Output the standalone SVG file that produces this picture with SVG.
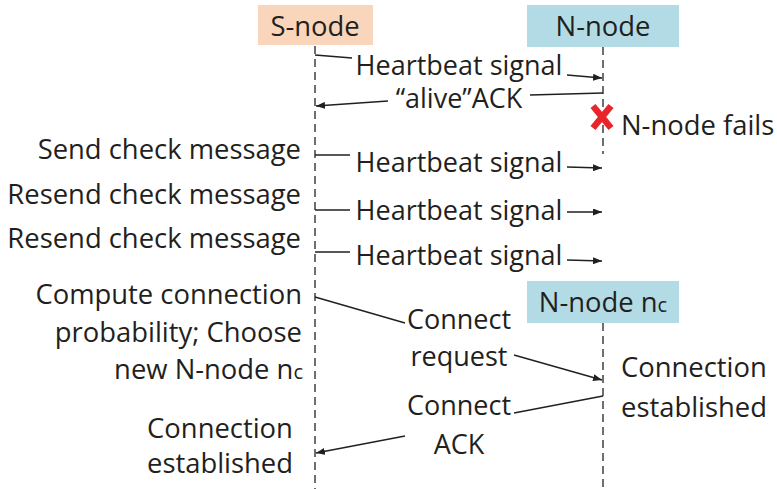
<svg xmlns="http://www.w3.org/2000/svg" width="777" height="489" viewBox="0 0 777 489">
  <defs>
    <marker id="arrow" viewBox="0 0 9 7" refX="9" refY="3.5" markerWidth="9" markerHeight="7" markerUnits="userSpaceOnUse" orient="auto">
      <path d="M0,0 L9,3.5 L0,7 z" fill="#231f20"/>
    </marker>
    <style>
      text { font-family: "Open Sans", "Noto Sans", sans-serif; font-size: 27.4px; fill: #231f20; }
      .lbl { font-size: 27px; }
      .end { text-anchor: end; }
      .mid { text-anchor: middle; }
      .life { stroke: #333; stroke-width: 1.4; stroke-dasharray: 8 5; fill: none; }
      .msg { stroke: #231f20; stroke-width: 1.4; fill: none; }
      .sub { font-size: 20px; }
    </style>
  </defs>
  <rect width="777" height="489" fill="#ffffff"/>

  <!-- lifelines -->
  <g id="lifelines">
    <line class="life" x1="315" y1="46" x2="315" y2="489"/>
    <line class="life" x1="603" y1="47" x2="603" y2="154"/>
    <line class="life" x1="603" y1="323" x2="603" y2="489"/>
  </g>

  <!-- participants -->
  <g id="s-node">
    <rect x="258" y="5" width="115" height="40" fill="#f9d5bb"/>
    <text class="mid" x="315" y="36">S-node</text>
  </g>
  <g id="n-node">
    <rect x="527" y="5" width="152" height="42" fill="#b3dbe5"/>
    <text class="mid" x="603" y="36">N-node</text>
  </g>
  <g id="n-node-nc">
    <rect x="527" y="281" width="152" height="42" fill="#b3dbe5"/>
    <text class="mid" x="603" y="312">N-node n<tspan class="sub">c</tspan></text>
  </g>
  <g id="failure">
    <line x1="593" y1="106" x2="611" y2="128" stroke="#e8252b" stroke-width="6.5"/>
    <line x1="611" y1="106" x2="593" y2="128" stroke="#e8252b" stroke-width="6.5"/>
    <text x="621" y="135">N-node fails</text>
  </g>

  <!-- messages -->
  <g id="connectors">
    <line class="msg" x1="315" y1="55" x2="352" y2="58"/>
    <line class="msg" x1="567" y1="75" x2="602" y2="78" marker-end="url(#arrow)"/>
    <line class="msg" x1="603" y1="93" x2="530" y2="95"/>
    <line class="msg" x1="388" y1="101" x2="316" y2="106" marker-end="url(#arrow)"/>

    <line class="msg" x1="315" y1="155" x2="350" y2="155"/>
    <line class="msg" x1="567" y1="167" x2="602" y2="168" marker-end="url(#arrow)"/>
    <line class="msg" x1="315" y1="210" x2="350" y2="210"/>
    <line class="msg" x1="567" y1="212" x2="602" y2="212" marker-end="url(#arrow)"/>
    <line class="msg" x1="315" y1="252" x2="350" y2="252"/>
    <line class="msg" x1="567" y1="260" x2="602" y2="261" marker-end="url(#arrow)"/>

    <line class="msg" x1="315" y1="297" x2="405" y2="323"/>
    <line class="msg" x1="514" y1="355" x2="602" y2="380" marker-end="url(#arrow)"/>
    <line class="msg" x1="603" y1="396" x2="514" y2="413"/>
    <line class="msg" x1="405" y1="436" x2="316" y2="453" marker-end="url(#arrow)"/>
  </g>

  <!-- message labels -->
  <g id="message-labels">
    <text class="lbl mid" x="459" y="75">Heartbeat signal</text>
    <text class="lbl mid" x="459" y="108">“alive”ACK</text>
    <text class="lbl mid" x="459" y="172">Heartbeat signal</text>
    <text class="lbl mid" x="459" y="220">Heartbeat signal</text>
    <text class="lbl mid" x="459" y="265">Heartbeat signal</text>
    <text class="lbl mid" x="459" y="329">Connect</text>
    <text class="lbl mid" x="459" y="366">request</text>
    <text class="lbl mid" x="459" y="415">Connect</text>
    <text class="lbl mid" x="459" y="454">ACK</text>
  </g>

  <!-- S-node actions -->
  <g id="s-actions">
    <text class="end" x="301" y="159">Send check message</text>
    <text class="end" x="301" y="204">Resend check message</text>
    <text class="end" x="301" y="248">Resend check message</text>
    <text class="end" x="302" y="304">Compute connection</text>
    <text class="end" x="302" y="342">probability; Choose</text>
    <text class="end" x="303" y="379">new N-node n<tspan class="sub">c</tspan></text>
    <text class="mid" x="220" y="438">Connection</text>
    <text class="mid" x="220" y="473">established</text>
  </g>

  <!-- N-node nc actions -->
  <g id="nc-actions">
    <text x="621" y="377">Connection</text>
    <text x="621" y="417">established</text>
  </g>
</svg>
